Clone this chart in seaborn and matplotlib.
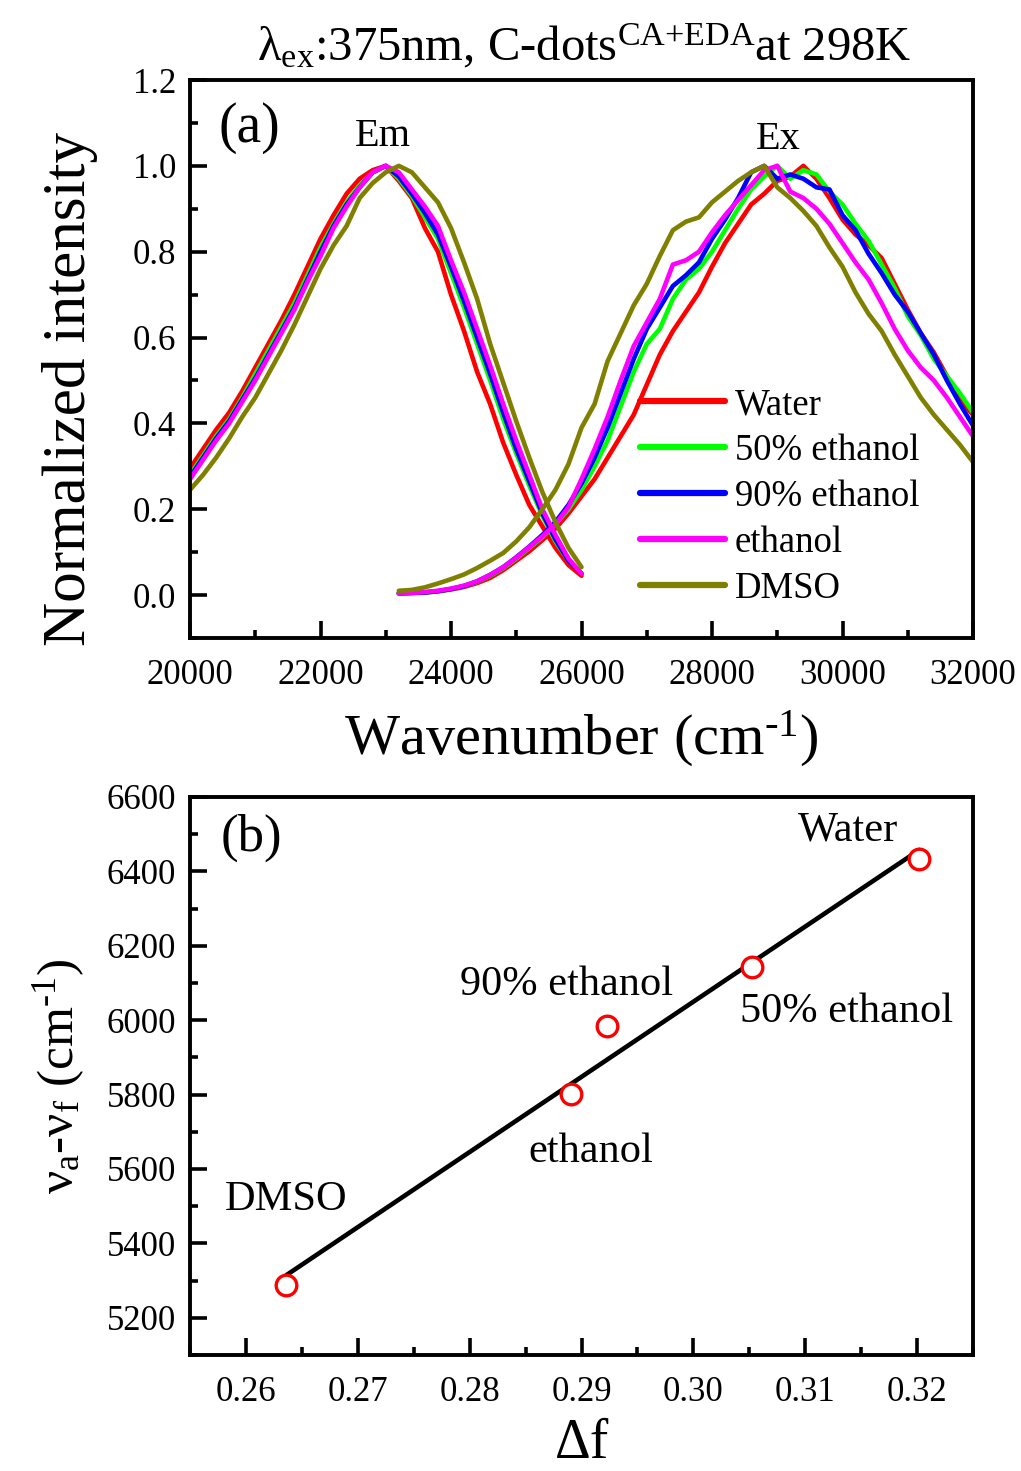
import numpy as np
import pandas as pd
import matplotlib
matplotlib.use("Agg")
import matplotlib.pyplot as plt
from matplotlib.lines import Line2D
from matplotlib.ticker import MultipleLocator, FormatStrFormatter
import seaborn as sns

# ---------------- data ----------------
solvents = ["Water", "50% ethanol", "90% ethanol", "ethanol", "DMSO"]
colors = ["#ff0000", "#00ff00", "#0000ff", "#ff00ff", "#808000"]

x_em = np.arange(20000, 26001, 200)
water_em = [0.295, 0.34, 0.385, 0.425, 0.475, 0.53, 0.585, 0.64, 0.70, 0.765, 0.83, 0.885, 0.935, 0.97, 0.99, 1.0,
            0.965, 0.925, 0.855, 0.80, 0.70, 0.615, 0.52, 0.445, 0.355, 0.28, 0.21, 0.16, 0.11, 0.07, 0.045]
eth50_em = [0.28, 0.325, 0.37, 0.41, 0.46, 0.515, 0.57, 0.625, 0.68, 0.745, 0.81, 0.865, 0.915, 0.955, 0.985, 1.0,
            0.97, 0.93, 0.88, 0.83, 0.75, 0.67, 0.585, 0.50, 0.41, 0.33, 0.255, 0.185, 0.125, 0.08, 0.05]
eth90_em = [0.275, 0.32, 0.365, 0.405, 0.455, 0.505, 0.56, 0.615, 0.67, 0.735, 0.80, 0.86, 0.91, 0.95, 0.985, 1.0,
            0.975, 0.935, 0.89, 0.84, 0.765, 0.685, 0.60, 0.515, 0.425, 0.34, 0.265, 0.19, 0.13, 0.08, 0.05]
eth_em = [0.27, 0.315, 0.36, 0.40, 0.45, 0.50, 0.555, 0.61, 0.665, 0.73, 0.79, 0.855, 0.905, 0.95, 0.985, 1.0,
          0.985, 0.945, 0.905, 0.86, 0.78, 0.705, 0.62, 0.535, 0.445, 0.36, 0.28, 0.20, 0.14, 0.085, 0.05]
dmso_em = [0.245, 0.28, 0.32, 0.365, 0.415, 0.46, 0.515, 0.57, 0.63, 0.695, 0.76, 0.815, 0.86, 0.925, 0.96, 0.985,
           1.0, 0.985, 0.95, 0.915, 0.855, 0.775, 0.69, 0.585, 0.495, 0.405, 0.32, 0.24, 0.17, 0.11, 0.065]

x_ex = np.arange(23200, 32001, 200)
water_ex = [0.004, 0.005, 0.006, 0.009, 0.013, 0.019, 0.028, 0.04, 0.058, 0.08, 0.102, 0.128, 0.155, 0.19, 0.23,
            0.27, 0.32, 0.37, 0.42, 0.49, 0.56, 0.615, 0.66, 0.705, 0.765, 0.82, 0.865, 0.91, 0.935, 0.965, 0.975,
            1.0, 0.97, 0.925, 0.875, 0.84, 0.815, 0.785, 0.725, 0.665, 0.61, 0.565, 0.51, 0.455, 0.42]
eth50_ex = [0.004, 0.005, 0.006, 0.009, 0.014, 0.021, 0.031, 0.045, 0.063, 0.085, 0.11, 0.135, 0.165, 0.2, 0.245,
            0.3, 0.36, 0.44, 0.52, 0.585, 0.62, 0.69, 0.735, 0.76, 0.80, 0.85, 0.90, 0.945, 0.975, 1.0, 0.97,
            0.99, 0.98, 0.94, 0.91, 0.865, 0.825, 0.77, 0.715, 0.65, 0.605, 0.55, 0.51, 0.47, 0.425]
eth90_ex = [0.004, 0.005, 0.006, 0.009, 0.014, 0.021, 0.032, 0.047, 0.065, 0.088, 0.113, 0.14, 0.17, 0.21, 0.26,
            0.32, 0.39, 0.47, 0.55, 0.62, 0.67, 0.72, 0.745, 0.775, 0.83, 0.875, 0.925, 0.985, 1.0, 0.97, 0.98,
            0.97, 0.95, 0.945, 0.885, 0.85, 0.795, 0.75, 0.70, 0.66, 0.61, 0.56, 0.50, 0.445, 0.395]
eth_ex = [0.004, 0.005, 0.007, 0.01, 0.015, 0.022, 0.032, 0.047, 0.065, 0.087, 0.112, 0.137, 0.165, 0.205, 0.27,
          0.34, 0.415, 0.50, 0.58, 0.635, 0.69, 0.77, 0.78, 0.80, 0.845, 0.885, 0.92, 0.955, 0.99, 1.0, 0.94,
          0.925, 0.9, 0.865, 0.82, 0.775, 0.735, 0.68, 0.62, 0.57, 0.53, 0.50, 0.46, 0.415, 0.37]
dmso_ex = [0.01, 0.012, 0.018, 0.027, 0.037, 0.048, 0.063, 0.08, 0.098, 0.125, 0.158, 0.2, 0.245, 0.305, 0.39,
           0.445, 0.545, 0.61, 0.675, 0.725, 0.79, 0.85, 0.87, 0.88, 0.915, 0.94, 0.965, 0.985, 1.0, 0.95, 0.925,
           0.895, 0.86, 0.81, 0.765, 0.705, 0.655, 0.615, 0.56, 0.51, 0.46, 0.42, 0.385, 0.35, 0.31]

em_series = [water_em, eth50_em, eth90_em, eth_em, dmso_em]
ex_series = [water_ex, eth50_ex, eth90_ex, eth_ex, dmso_ex]

# panel (b)
pt_labels = ["DMSO", "ethanol", "90% ethanol", "50% ethanol", "Water"]
delta_f = [0.2636, 0.2891, 0.2923, 0.3052, 0.3202]
stokes_shift = [5288, 5802, 5984, 6143, 6433]
label_x = [0.2636, 0.2908, 0.2887, 0.3137, 0.3138]
label_y = [5517, 5646, 6095, 6022, 6511]

# ---------------- style ----------------
sns.set_theme(style="ticks")
plt.rcParams.update({
    "font.family": ["Liberation Serif", "DejaVu Serif"],
    "mathtext.fontset": "custom",
    "mathtext.rm": "Liberation Serif",
    "mathtext.it": "Liberation Serif:italic",
    "mathtext.bf": "Liberation Serif:bold",
    "axes.linewidth": 2.8,
    "axes.edgecolor": "black",
    "text.color": "black",
    "axes.labelcolor": "black",
    "xtick.color": "black",
    "ytick.color": "black",
})

fig = plt.figure(figsize=(10.21, 14.71), dpi=100)
ax1 = fig.add_axes([0.1861, 0.5663, 0.7669, 0.3793])
ax2 = fig.add_axes([0.1861, 0.0789, 0.7669, 0.3793])

# ---------------- panel (a) ----------------
rows = []
for s, em, ex in zip(solvents, em_series, ex_series):
    rows.append(pd.DataFrame({"wn": x_em, "I": em, "solvent": s, "part": "em"}))
    rows.append(pd.DataFrame({"wn": x_ex, "I": ex, "solvent": s, "part": "ex"}))
df = pd.concat(rows, ignore_index=True)

palette = dict(zip(solvents, colors))
sns.lineplot(data=df, x="wn", y="I", hue="solvent", units="part", estimator=None,
             hue_order=solvents, palette=palette, lw=3.3, legend=False, ax=ax1)

ax1.set_xlim(20000, 32000)
ax1.set_ylim(-0.1, 1.2)
ax1.xaxis.set_major_locator(MultipleLocator(2000))
ax1.xaxis.set_minor_locator(MultipleLocator(1000))
ax1.yaxis.set_major_locator(MultipleLocator(0.2))
ax1.yaxis.set_minor_locator(MultipleLocator(0.1))
ax1.yaxis.set_major_formatter(FormatStrFormatter("%.1f"))
ax1.set_xlabel("Wavenumber (cm$^{\u2010\\rm 1}$)", fontsize=42, labelpad=12)
ax1.set_ylabel("Normalized intensity", fontsize=44)
ax1.yaxis.set_label_coords(-0.118, 0.446)

handles = [Line2D([], [], color=c, lw=4.5) for c in colors]
ax1.legend(handles, solvents, loc="upper left", bbox_to_anchor=(0.5747, 0.4485),
           frameon=False, fontsize=26.5, handlelength=2.3, handletextpad=0.27,
           labelspacing=0.31, borderpad=0, borderaxespad=0)

ax1.text(0.0755, 0.914, "(a)", transform=ax1.transAxes, fontsize=40, ha="center", va="center")
ax1.text(22958, 1.068, "Em", fontsize=29, ha="center", va="center")
ax1.text(29011, 1.061, "Ex", fontsize=29, ha="center", va="center")

# ---------------- panel (b) ----------------
sns.regplot(x=delta_f, y=stokes_shift, ci=None, scatter=False, truncate=True,
            line_kws=dict(color="black", lw=3.3), ax=ax2)
sns.scatterplot(x=delta_f, y=stokes_shift, marker="o", s=220, color="#ff0000",
                facecolor="white", edgecolor="#ff0000", linewidth=2.4, zorder=4,
                legend=False, ax=ax2)
for t, lx, ly in zip(pt_labels, label_x, label_y):
    ax2.text(lx, ly, t, fontsize=30.5, ha="center", va="center")

ax2.set_xlim(0.255, 0.325)
ax2.set_ylim(5100, 6600)
ax2.xaxis.set_major_locator(MultipleLocator(0.01))
ax2.xaxis.set_minor_locator(MultipleLocator(0.005))
ax2.yaxis.set_major_locator(MultipleLocator(200))
ax2.yaxis.set_minor_locator(MultipleLocator(100))
ax2.xaxis.set_major_formatter(FormatStrFormatter("%.2f"))
ax2.set_xlabel("Δf", fontsize=40, labelpad=7)
ax2.set_ylabel("ν$_{\\rm a}$-ν$_{\\rm f}$ (cm$^{\u2010\\rm 1}$)", fontsize=37, labelpad=14)
ax2.text(0.079, 0.926, "(b)", transform=ax2.transAxes, fontsize=38, ha="center", va="center")

for ax in (ax1, ax2):
    ax.tick_params(which="both", direction="in", top=False, right=False, width=2.6,
                   labelsize=25)
    ax.tick_params(axis="x", pad=15)
    ax.tick_params(axis="y", pad=10)
    ax.tick_params(which="major", length=12)
    ax.tick_params(which="minor", length=6)
    for sp in ax.spines.values():
        sp.set_linewidth(2.8)
        sp.set_visible(True)

fig.text(0.572, 0.969, "λ$_{\\rm ex}$:375nm, C-dots$^{\\rm CA{+}EDA}$at 298K", fontsize=35,
         ha="center", va="center")

fig.savefig("out.png", dpi=100, facecolor="white")
